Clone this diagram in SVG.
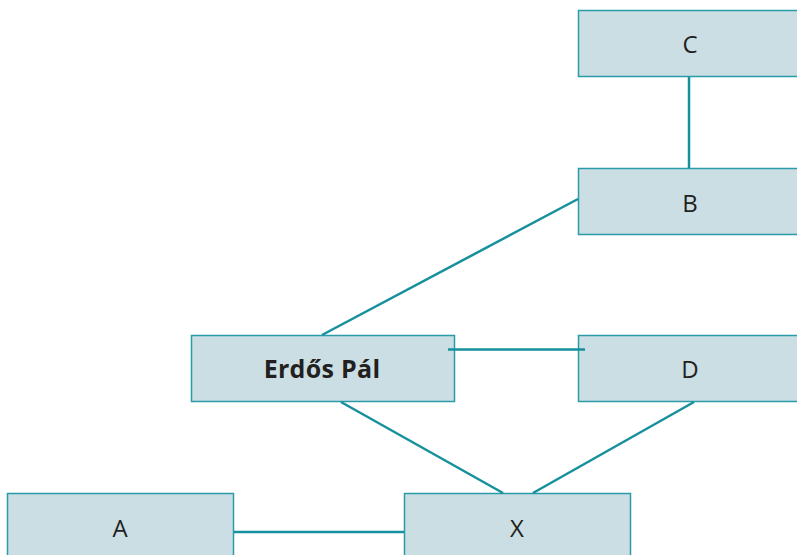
<svg xmlns="http://www.w3.org/2000/svg" width="797" height="555" viewBox="0 0 797 555">
<style>
.box{fill:#cbdee4;stroke:#2a9ba8;stroke-width:1.5}
.lbl{font-family:"Open Sans","Liberation Sans",sans-serif;font-size:24px;fill:#231f20;text-anchor:middle}
.b{font-weight:bold;font-size:25px;letter-spacing:0.3px}
.conn line{stroke:#15909c;stroke-width:2.5}
</style>
<rect width="797" height="555" fill="#fff"/>
<g id="C"><rect class="box" x="578.5" y="10.5" width="226" height="66"/><text class="lbl" x="690" y="53">C</text></g>
<g id="B"><rect class="box" x="578.5" y="168.5" width="226" height="66"/><text class="lbl" x="690" y="212">B</text></g>
<g id="Erdos"><rect class="box" x="191.5" y="335.5" width="263" height="66"/><text class="lbl b" x="322" y="378">Erdős Pál</text></g>
<g id="D"><rect class="box" x="578.5" y="335.5" width="226" height="66"/><text class="lbl" x="690" y="378">D</text></g>
<g id="A"><rect class="box" x="7.5" y="493.5" width="226" height="66"/><text class="lbl" x="120" y="537">A</text></g>
<g id="X"><rect class="box" x="404.5" y="493.5" width="226" height="66"/><text class="lbl" x="517" y="537">X</text></g>
<g class="conn" id="connectors">
<line x1="689" y1="77" x2="689" y2="168"/>
<line x1="578" y1="199" x2="322" y2="335"/>
<line x1="448" y1="349.5" x2="585" y2="349.5"/>
<line x1="341" y1="402" x2="503" y2="493"/>
<line x1="694" y1="402" x2="533" y2="493"/>
<line x1="234" y1="532" x2="404" y2="532"/>
</g>
</svg>
